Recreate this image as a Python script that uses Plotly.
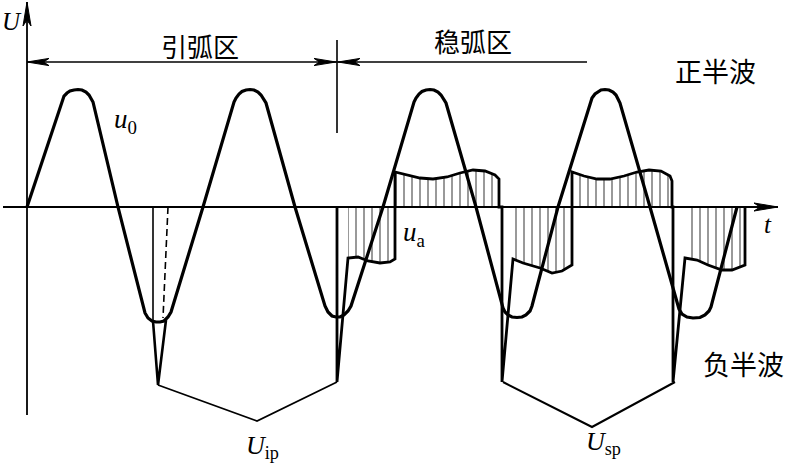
import plotly.graph_objects as go

# ---------------- data (t: time units, U: voltage units; axis origin at t=0, U=0) ----------------
# open-circuit voltage u0 (trapezoid-like wave with rounded peaks)
u0_t = [0, 35, 37, 40, 43, 47, 51, 55, 59, 62, 64, 66, 91,
        116, 118, 121, 125, 129, 133, 137, 141, 144, 176,
        207, 209, 212, 215, 219, 223, 227, 231, 234, 237, 239, 268,
        296, 298, 301, 305, 309, 313, 317, 321, 324, 356,
        387, 389, 392, 395, 399, 403, 407, 411, 414, 417, 419, 449,
        476, 478, 481, 485, 490, 495, 499, 503, 505, 531,
        563, 565, 568, 571, 574, 578, 582, 586, 589, 591, 593, 623,
        650, 652, 655, 660, 666, 673, 678, 682, 684, 710]
u0_U = [0, 107, 111, 114, 116, 117, 117.5, 117, 115, 112, 109, 105, 0,
        -101, -106, -111, -114, -115, -115, -114, -110, -105, 0,
        105, 109, 113, 115.5, 117, 117.5, 117, 115, 112, 108, 104, 0,
        -93, -99, -105, -109, -110, -110, -108, -104, -99, 0,
        105, 109, 113, 115.5, 117, 117.5, 117, 115, 112, 108, 104, 0,
        -101, -105, -108, -110, -110.5, -110, -108, -104, -99, 0,
        105, 109, 113, 115.5, 117, 117.5, 117, 115, 112, 108, 104, 0,
        -97, -102, -107, -110, -111, -110.5, -108, -104, -100, 0]

# arc voltage u_a, stable-arc zone
neg1_t = [321, 331, 341, 353, 363, 368]
neg1_U = [-51, -50, -54, -56, -55, -52]
pos1_t = [368, 380, 393, 406, 420, 433, 446, 458, 468, 472]
pos1_U = [35, 32, 29, 28, 30, 34, 37, 36, 32, 28]
neg2_t = [486, 496, 513, 525, 535, 545]
neg2_U = [-52, -56, -61, -66, -64, -58]
pos2_t = [545, 557, 570, 583, 597, 610, 622, 634, 643, 645]
pos2_U = [35, 31, 28, 28, 31, 35, 37, 36, 31, 26]
neg3_t = [658, 670, 681, 695, 705, 718]
neg3_U = [-51, -53, -58, -63, -63, -58]

# re-ignition spikes (stable zone)
reig_t = [310, 475, 646]
reig_U = [-175, -175, -175]

# ignition attempt in first trough
ign_solid_t = [126, 126]
ign_solid_U = [0, -114]
ign_dash_t = [141, 136]
ign_dash_U = [0, -111]
ign_spike_t = [126, 131, 139]
ign_spike_U = [-114, -178, -113]

# peak-voltage envelopes
Uip_t = [131, 230, 310]
Uip_U = [-178, -214, -175]
Usp_t = [476, 565, 648]
Usp_U = [-175, -220, -175]

# zone dimension lines
zone_level = 145
zone1_t = [0, 310]
zone2_t = [310, 560]
sep_U = [167, 74]

# axes
xaxis_t = [-24, 751]
yaxis_U = [-208, 205]

BLACK = "black"
fig = go.Figure()

def line(t, U, width, dash=None, shape="linear"):
    fig.add_trace(go.Scatter(x=t, y=U, mode="lines", hoverinfo="skip", showlegend=False,
                             line=dict(color=BLACK, width=width, dash=dash, shape=shape)))

def hatch(t, U):
    xs = [t[0]] + list(t) + [t[-1]]
    ys = [0] + list(U) + [0]
    fig.add_trace(go.Scatter(x=xs, y=ys, mode="lines", fill="toself", hoverinfo="skip",
                             showlegend=False, line=dict(width=0, color="rgba(0,0,0,0)"),
                             fillcolor="rgba(0,0,0,0)",
                             fillpattern=dict(shape="|", size=8, solidity=0.2,
                                              fgcolor=BLACK, bgcolor="rgba(0,0,0,0)")))

# hatched arc-voltage areas
for tt, uu in [(neg1_t, neg1_U), (pos1_t, pos1_U), (neg2_t, neg2_U), (pos2_t, pos2_U), (neg3_t, neg3_U)]:
    hatch(tt, uu)

# axes
line(xaxis_t, [0, 0], 1.8)
line([0, 0], yaxis_U, 1.8)

# u0
line(u0_t, u0_U, 3.2)

# arc voltage outline
ua_t = [reig_t[0], reig_t[0]] + neg1_t + pos1_t + [pos1_t[-1], reig_t[1], reig_t[1]] + neg2_t + pos2_t \
       + [pos2_t[-1], reig_t[2], reig_t[2]] + neg3_t + [neg3_t[-1]]
ua_U = [0, reig_U[0]] + neg1_U + pos1_U + [0, 0, reig_U[1]] + neg2_U + pos2_U \
       + [0, 0, reig_U[2]] + neg3_U + [0]
line(ua_t, ua_U, 2.8)

# ignition attempt
line(ign_solid_t, ign_solid_U, 1.6)
line(ign_dash_t, ign_dash_U, 1.6, dash="7px,4px")
line(ign_spike_t, ign_spike_U, 2.6)

# envelopes
line(Uip_t, Uip_U, 1.8)
line(Usp_t, Usp_U, 2.0)

# zone lines
line(zone1_t, [zone_level] * 2, 1.6)
line(zone2_t, [zone_level] * 2, 1.6)
line([zone2_t[0]] * 2, sep_U, 1.6)

# arrowheads
def arrow(tip_t, tip_U, dt, dU, length=22, half=3.6):
    bt, bU = tip_t - dt * length, tip_U - dU * length
    nt, nU = tip_t - dt * length * 0.75, tip_U - dU * length * 0.75
    pt, pU = -dU, dt
    path = (f"M {tip_t},{tip_U} L {bt + pt*half},{bU + pU*half} L {nt},{nU} "
            f"L {bt - pt*half},{bU - pU*half} Z")
    fig.add_shape(type="path", path=path, xref="x", yref="y",
                  fillcolor=BLACK, line=dict(color=BLACK, width=1))

arrow(xaxis_t[1], 0, 1, 0, length=24, half=4)
arrow(0, yaxis_U[1], 0, 1, length=24, half=4)
arrow(zone1_t[0], zone_level, -1, 0)
arrow(zone1_t[1] - 1, zone_level, 1, 0)
arrow(zone2_t[0] + 1, zone_level, -1, 0)

# texts
serif = "Liberation Serif"
cjk = "Noto Sans CJK SC"
def text(t, U, s, size, family):
    fig.add_annotation(x=t, y=U, text=s, showarrow=False, xref="x", yref="y",
                       font=dict(family=family, size=size, color=BLACK))

text(-15, 186, "<i>U</i>", 25, serif)
text(741, -17, "<i>t</i>", 25, serif)
text(173, 162, "引弧区", 26, cjk)
text(446, 167, "稳弧区", 26, cjk)
text(688, 137, "正半波", 27, cjk)
text(716, -156, "负半波", 27, cjk)
text(98, 86, "<i>u</i><sub>0</sub>", 27, serif)
text(387, -27, "<i>u</i><sub>a</sub>", 27, serif)
text(235, -240, "<i>U</i><sub>ip</sub>", 26, serif)
text(576, -236, "<i>U</i><sub>sp</sub>", 26, serif)

fig.update_layout(width=786, height=468, margin=dict(l=0, r=0, t=0, b=0),
                  paper_bgcolor="white", plot_bgcolor="white", autosize=False,
                  xaxis=dict(range=[-27, 759], visible=False, fixedrange=True),
                  yaxis=dict(range=[-261, 207], visible=False, fixedrange=True))
fig.write_html("out.html", config={"displayModeBar": False},
               post_script="document.body.style.margin='0';document.body.style.overflow='hidden';")
